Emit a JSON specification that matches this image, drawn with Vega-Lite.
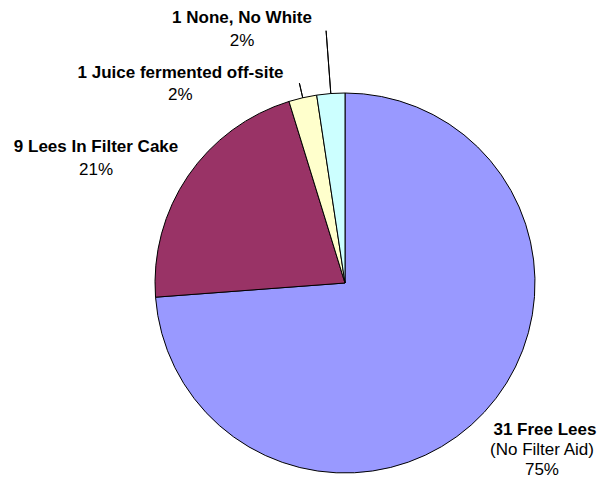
{
  "$schema": "https://vega.github.io/schema/vega-lite/v6.json",
  "width": 500,
  "height": 380,
  "autosize": {"type": "none"},
  "padding": {"left": 95, "top": 93, "right": 4, "bottom": 9},
  "background": "white",
  "config": {"view": {"stroke": null}, "text": {"font": "Liberation Sans", "fontSize": 17, "align": "center", "baseline": "alphabetic", "color": "black"}},
  "data": {"values": [
    {"cat": "Free Lees", "label": "31 Free Lees", "sub": "(No Filter Aid)\n75%", "n": 31, "idx": 1},
    {"cat": "Lees In Filter Cake", "label": "9 Lees In Filter Cake", "sub": "21%", "n": 9, "idx": 2},
    {"cat": "Juice fermented off-site", "label": "1 Juice fermented off-site", "sub": "2%", "n": 1, "idx": 3},
    {"cat": "None, No White", "label": "1 None, No White", "sub": "2%", "n": 1, "idx": 4}
  ]},
  "encoding": {
    "theta": {"field": "n", "type": "quantitative", "stack": true},
    "order": {"field": "idx", "type": "quantitative"},
    "detail": {"field": "cat", "type": "nominal"}
  },
  "layer": [
    {
      "mark": {"type": "arc", "outerRadius": 190, "stroke": "black", "strokeWidth": 1},
      "encoding": {
        "color": {"field": "cat", "type": "nominal", "legend": null,
          "scale": {"domain": ["Free Lees", "Lees In Filter Cake", "Juice fermented off-site", "None, No White"],
                    "range": ["#9999FF", "#993366", "#FFFFCC", "#CCFFFF"]}}
      }
    },
    {
      "mark": {"type": "arc", "innerRadius": 190, "outerRadius": 253, "padAngle": 0.5, "fill": "transparent", "strokeWidth": 1},
      "encoding": {
        "stroke": {"condition": {"test": "datum.cat === 'None, No White'", "value": "black"}, "value": "transparent"}
      }
    },
    {
      "mark": {"type": "arc", "innerRadius": 190, "outerRadius": 205, "padAngle": 0.5, "fill": "transparent", "strokeWidth": 1},
      "encoding": {
        "stroke": {"condition": {"test": "datum.cat === 'Juice fermented off-site'", "value": "black"}, "value": "transparent"}
      }
    },
    {
      "mark": {"type": "text", "radius": 260, "dx": -83.6, "dy": -0.4, "fontWeight": "bold"},
      "encoding": {"text": {"condition": {"test": "datum.cat === 'None, No White'", "field": "label"}, "value": ""}}
    },
    {
      "mark": {"type": "text", "radius": 260, "dx": -83.6, "dy": 22},
      "encoding": {"text": {"condition": {"test": "datum.cat === 'None, No White'", "field": "sub"}, "value": ""}}
    },
    {
      "mark": {"type": "text", "radius": 230, "dx": -113.3, "dy": 18.9, "fontWeight": "bold"},
      "encoding": {"text": {"condition": {"test": "datum.cat === 'Juice fermented off-site'", "field": "label"}, "value": ""}}
    },
    {
      "mark": {"type": "text", "radius": 230, "dx": -113.5, "dy": 41.2},
      "encoding": {"text": {"condition": {"test": "datum.cat === 'Juice fermented off-site'", "field": "sub"}, "value": ""}}
    },
    {
      "mark": {"type": "text", "radius": 280, "dx": -17.6, "dy": 26.7, "fontWeight": "bold"},
      "encoding": {"text": {"condition": {"test": "datum.cat === 'Lees In Filter Cake'", "field": "label"}, "value": ""}}
    },
    {
      "mark": {"type": "text", "radius": 280, "dx": -17.6, "dy": 49.7},
      "encoding": {"text": {"condition": {"test": "datum.cat === 'Lees In Filter Cake'", "field": "sub"}, "value": ""}}
    },
    {
      "mark": {"type": "text", "radius": 250, "dx": 16.7, "dy": -18, "fontWeight": "bold"},
      "encoding": {"text": {"condition": {"test": "datum.cat === 'Free Lees'", "field": "label"}, "value": ""}}
    },
    {
      "mark": {"type": "text", "radius": 250, "dx": 13.7, "dy": 2, "lineBreak": "\n", "lineHeight": 19.5},
      "encoding": {"text": {"condition": {"test": "datum.cat === 'Free Lees'", "field": "sub"}, "value": ""}}
    }
  ]
}
